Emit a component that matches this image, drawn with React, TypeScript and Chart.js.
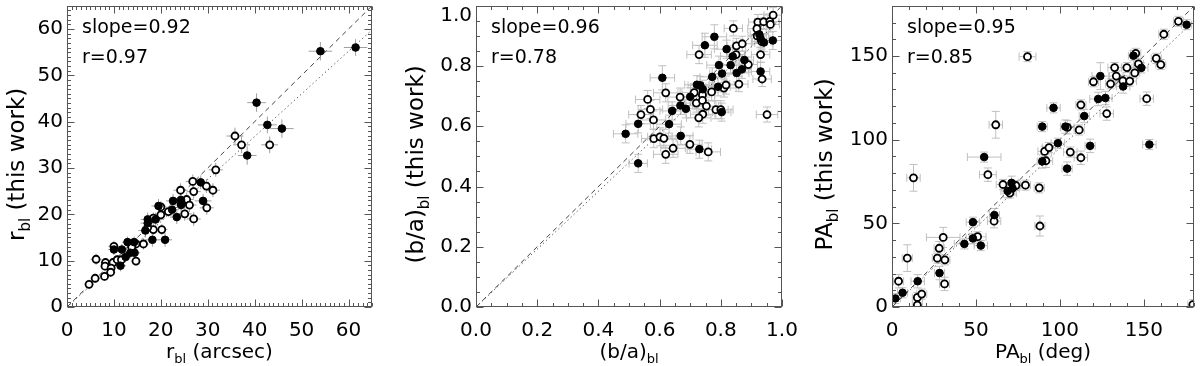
import React, { useEffect, useRef } from 'react';
import { Chart, registerables } from 'chart.js';
Chart.register(...registerables);

// ---------------- Panel 1: r_bl ----------------
const p1FilledX = [54, 61.5, 40.4, 42.7, 45.8, 38.4, 28.5, 29, 22.6, 22.4, 24.3, 24.3, 23.4, 19.5, 20.9, 18.2, 17.2, 17.2, 18.9, 16.7, 12.9, 14.3, 10, 11.7, 12.5, 13.5, 14.4, 11.4];
const p1FilledY = [55.2, 56, 44.1, 39.3, 38.5, 32.7, 26.9, 22.9, 22.9, 21, 23.1, 22, 19.4, 21.8, 14.5, 14.5, 18.9, 18.1, 18.9, 16.5, 14, 14, 12.4, 12.4, 10.8, 11.7, 11.7, 8.9];
const p1FilledXErr = [2.5, 2.5, 2, 2, 2.5, 2, 1.8, 1.8, 1.5, 1.5, 1.5, 1.5, 1.5, 1.5, 1.5, 1.5, 1.5, 1.5, 1.5, 1.5, 1.2, 1.2, 1.2, 1.2, 1.2, 1.2, 1.2, 1.2];
const p1FilledYErr = [2, 1.8, 2, 1.8, 2, 2, 1.5, 1.5, 1.5, 1.5, 1.5, 1.5, 1.5, 1.5, 1.5, 1.5, 1.5, 1.5, 1.5, 1.5, 1.2, 1.2, 1.2, 1.2, 1.2, 1.2, 1.2, 1.2];
const p1OpenX = [35.8, 37.2, 43.2, 31.7, 26.8, 27, 29.7, 31.1, 24.2, 25.5, 24.4, 26.1, 29.8, 25.1, 27, 21.6, 20, 20, 18.4, 20.2, 18.4, 17.2, 16.3, 14.7, 13.8, 10, 6.2, 8.2, 9.8, 8.1, 9.4, 9.3, 10.7, 11.6, 14.7, 8, 6, 4.7];
const p1OpenY = [36.9, 35, 35, 29.6, 27.1, 24.9, 26.1, 25.2, 25.2, 23.2, 22.4, 22, 21.4, 20.1, 19, 20.6, 21.6, 19.9, 19.2, 16.7, 16.7, 17.2, 13.6, 13.6, 12.9, 13.1, 10.3, 9.6, 9.6, 8.8, 8.4, 7.5, 10.2, 10.2, 9.9, 6.6, 6.2, 4.9];
const p1OpenXErr = [1.8, 1.8, 1.8, 1.5, 1.5, 1.5, 1.5, 1.5, 1.5, 1.5, 1.5, 1.5, 1.5, 1.5, 1.5, 1.2, 1.2, 1.2, 1.2, 1.2, 1.2, 1.2, 1.2, 1.2, 1.2, 1.2, 1.2, 1, 1, 1, 1, 1, 1, 1, 1, 1, 1, 1];
const p1OpenYErr = [1.8, 1.8, 1.8, 1.5, 1.5, 1.5, 1.5, 1.5, 1.5, 1.5, 1.5, 1.5, 1.5, 1.5, 1.5, 1.2, 1.2, 1.2, 1.2, 1.2, 1.2, 1.2, 1.2, 1.2, 1.2, 1.2, 1.2, 1, 1, 1, 1, 1, 1, 1, 1, 1, 1, 1];

// ---------------- Panel 2: (b/a)_bl ----------------
const p2FilledX = [0.489, 0.53, 0.53, 0.609, 0.641, 0.631, 0.669, 0.668, 0.686, 0.7, 0.722, 0.733, 0.741, 0.73, 0.748, 0.779, 0.772, 0.791, 0.794, 0.804, 0.803, 0.819, 0.832, 0.839, 0.852, 0.869, 0.877, 0.93, 0.926, 0.93, 0.941, 0.97];
const p2FilledY = [0.575, 0.608, 0.477, 0.761, 0.651, 0.607, 0.568, 0.669, 0.658, 0.698, 0.738, 0.736, 0.723, 0.524, 0.869, 0.897, 0.764, 0.731, 0.803, 0.775, 0.647, 0.856, 0.803, 0.832, 0.777, 0.789, 0.82, 0.782, 0.905, 0.891, 0.878, 0.885];
const p2FilledXErr = [0.04, 0.04, 0.03, 0.04, 0.04, 0.04, 0.04, 0.04, 0.04, 0.04, 0.04, 0.04, 0.04, 0.04, 0.04, 0.04, 0.04, 0.04, 0.04, 0.04, 0.03, 0.04, 0.04, 0.04, 0.04, 0.03, 0.03, 0.03, 0.03, 0.03, 0.03, 0.03];
const p2FilledYErr = [0.03, 0.03, 0.03, 0.04, 0.03, 0.03, 0.03, 0.03, 0.03, 0.03, 0.03, 0.03, 0.03, 0.03, 0.04, 0.04, 0.03, 0.03, 0.03, 0.03, 0.03, 0.03, 0.03, 0.03, 0.03, 0.03, 0.03, 0.03, 0.03, 0.03, 0.03, 0.03];
const p2OpenX = [0.561, 0.539, 0.57, 0.58, 0.581, 0.601, 0.614, 0.62, 0.644, 0.62, 0.667, 0.699, 0.713, 0.72, 0.729, 0.74, 0.74, 0.741, 0.728, 0.753, 0.759, 0.77, 0.784, 0.8, 0.81, 0.817, 0.841, 0.851, 0.85, 0.859, 0.87, 0.89, 0.921, 0.918, 0.919, 0.934, 0.93, 0.935, 0.94, 0.96, 0.962, 0.971, 0.951];
const p2OpenY = [0.689, 0.639, 0.656, 0.621, 0.559, 0.565, 0.56, 0.507, 0.527, 0.711, 0.697, 0.54, 0.712, 0.677, 0.838, 0.704, 0.686, 0.64, 0.628, 0.667, 0.515, 0.714, 0.655, 0.655, 0.727, 0.737, 0.925, 0.867, 0.838, 0.74, 0.874, 0.805, 0.946, 0.924, 0.9, 0.881, 0.838, 0.757, 0.947, 0.948, 0.938, 0.969, 0.639];
const p2OpenXErr = [0.04, 0.04, 0.04, 0.04, 0.04, 0.04, 0.04, 0.04, 0.04, 0.04, 0.04, 0.04, 0.04, 0.04, 0.04, 0.04, 0.04, 0.04, 0.04, 0.04, 0.04, 0.04, 0.04, 0.04, 0.04, 0.04, 0.03, 0.03, 0.03, 0.03, 0.03, 0.03, 0.03, 0.03, 0.03, 0.03, 0.03, 0.03, 0.03, 0.03, 0.03, 0.03, 0.035];
const p2OpenYErr = [0.03, 0.03, 0.03, 0.03, 0.03, 0.03, 0.03, 0.03, 0.03, 0.03, 0.03, 0.03, 0.03, 0.03, 0.03, 0.03, 0.03, 0.03, 0.03, 0.03, 0.03, 0.03, 0.03, 0.03, 0.03, 0.03, 0.025, 0.025, 0.025, 0.025, 0.025, 0.025, 0.025, 0.025, 0.025, 0.025, 0.025, 0.025, 0.025, 0.025, 0.025, 0.025, 0.025];

// ---------------- Panel 3: PA_bl ----------------
const p3FilledX = [2, 6.3, 15.3, 28.3, 43.1, 48.2, 48.2, 52.9, 54.9, 61, 68.9, 71.2, 71.8, 89.5, 89.5, 96.2, 98.8, 104.3, 103.3, 114.5, 118, 122.8, 124.1, 127.1, 137.7, 143.8, 148.5, 153.3, 175.5];
const p3FilledY = [5.1, 8.5, 15.4, 20.3, 37.7, 50.7, 41, 36.7, 89.6, 54.9, 69.3, 74.2, 70.9, 87, 107.8, 119, 97.9, 82.7, 107.8, 114.1, 96.3, 124.3, 138, 124.9, 131.8, 150.2, 142.9, 97.1, 168.7];
const p3FilledXErr = [3, 3, 4, 3, 6, 4, 4, 4, 10, 3, 4, 4, 4, 3, 3, 4, 4, 3, 3, 3, 3, 5, 5, 4, 4, 3, 4, 4, 3];
const p3FilledYErr = [3, 3, 4, 4, 3, 3, 3, 3, 3, 4, 4, 4, 4, 4, 3, 3, 3, 4, 4, 4, 4, 4, 8, 4, 4, 3, 3, 3, 3];
const p3OpenX = [3.9, 9.1, 12.8, 15.1, 15.1, 17.7, 27, 28.1, 30.5, 31.5, 31.3, 51, 60.8, 57.1, 61.8, 66.1, 70.2, 73.8, 79.5, 80.7, 87.7, 88.1, 90.9, 91.7, 93.5, 104.5, 106.2, 111.5, 112.5, 112.5, 120, 127.9, 130.2, 132.6, 133.6, 137.5, 139.9, 141.6, 144.6, 145.2, 146.8, 151.7, 157.4, 160.1, 161.9, 170.6, 179.2];
const p3OpenY = [15.4, 29.2, 77.2, 5.7, 1.2, 7.7, 29.2, 35.1, 41.6, 28.2, 13.8, 42, 51.3, 79.1, 108.9, 73.2, 68.1, 72.6, 72.8, 149.6, 71.2, 48.4, 93, 87.4, 95.3, 107.4, 92.6, 105.8, 89.2, 120.8, 134.6, 115.6, 133.4, 143.1, 138, 135.2, 143.1, 135, 139.9, 151.6, 145.3, 124.5, 148.6, 144.9, 163, 170.7, 1.4];
const p3OpenXErr = [3, 3, 4, 3, 3, 3, 3, 3, 10, 3, 3, 5, 4, 5, 4, 4, 4, 3, 3, 5, 3, 3, 4, 4, 4, 4, 4, 3, 4, 3, 3, 4, 3, 4, 4, 3, 3, 4, 3, 3, 3, 4, 3, 3, 3, 3, 3];
const p3OpenYErr = [4, 8, 8, 3, 3, 3, 3, 4, 6, 3, 4, 3, 4, 4, 8, 3, 3, 3, 3, 3, 3, 6, 3, 4, 3, 4, 3, 3, 4, 3, 3, 4, 3, 3, 3, 3, 3, 3, 3, 3, 3, 4, 3, 3, 3, 3, 3];

const slopes = [0.92, 0.96, 0.95];
const corrs = ['0.97', '0.78', '0.85'];

const FONT = 'DejaVu Sans';

type Part = { t: string; sub?: boolean };
type PanelCfg = {
  offset: number; plotLeft: number; plotRight: number;
  min: number; max: number; major: number; minor: number;
  decimals: number; hideTopY: boolean;
  slope: number; corr: string;
  filledX: number[]; filledY: number[]; filledXErr: number[]; filledYErr: number[];
  openX: number[]; openY: number[]; openXErr: number[]; openYErr: number[];
  xTitle: Part[]; yTitle: Part[]; yTitleX: number; cap: number; errColor: string;
};

const panels: PanelCfg[] = [
  {
    offset: 0, plotLeft: 67, plotRight: 372, min: 0, max: 65, major: 10, minor: 1, decimals: 0, hideTopY: false,
    slope: slopes[0], corr: corrs[0],
    filledX: p1FilledX, filledY: p1FilledY, filledXErr: p1FilledXErr, filledYErr: p1FilledYErr,
    openX: p1OpenX, openY: p1OpenY, openXErr: p1OpenXErr, openYErr: p1OpenYErr,
    xTitle: [{ t: 'r' }, { t: 'bl', sub: true }, { t: ' (arcsec)' }],
    yTitle: [{ t: 'r' }, { t: 'bl', sub: true }, { t: ' (this work)' }],
    yTitleX: 24, cap: 0, errColor: '#a0a0a0',
  },
  {
    offset: 400, plotLeft: 76, plotRight: 382, min: 0, max: 1, major: 0.2, minor: 0.05, decimals: 1, hideTopY: true,
    slope: slopes[1], corr: corrs[1],
    filledX: p2FilledX, filledY: p2FilledY, filledXErr: p2FilledXErr, filledYErr: p2FilledYErr,
    openX: p2OpenX, openY: p2OpenY, openXErr: p2OpenXErr, openYErr: p2OpenYErr,
    xTitle: [{ t: '(b/a)' }, { t: 'bl', sub: true }],
    yTitle: [{ t: '(b/a)' }, { t: 'bl', sub: true }, { t: ' (this work)' }],
    yTitleX: 23, cap: 4, errColor: '#c0c0c0',
  },
  {
    offset: 800, plotLeft: 92, plotRight: 397, min: 0, max: 180, major: 50, minor: 10, decimals: 0, hideTopY: false,
    slope: slopes[2], corr: corrs[2],
    filledX: p3FilledX, filledY: p3FilledY, filledXErr: p3FilledXErr, filledYErr: p3FilledYErr,
    openX: p3OpenX, openY: p3OpenY, openXErr: p3OpenXErr, openYErr: p3OpenYErr,
    xTitle: [{ t: 'PA' }, { t: 'bl', sub: true }, { t: ' (deg)' }],
    yTitle: [{ t: 'PA' }, { t: 'bl', sub: true }, { t: ' (this work)' }],
    yTitleX: 32, cap: 4, errColor: '#c0c0c0',
  },
];

const W = 400;
const H = 366;
const PLOT_TOP = 3;
const PLOT_BOTTOM = 307;

function drawParts(ctx: CanvasRenderingContext2D, parts: Part[], size: number, subSize: number, cx: number, by: number) {
  const widths = parts.map((p) => {
    ctx.font = `${p.sub ? subSize : size}px "${FONT}"`;
    return ctx.measureText(p.t).width;
  });
  const total = widths.reduce((a, b) => a + b, 0);
  let x = cx - total / 2;
  ctx.textAlign = 'left';
  ctx.textBaseline = 'alphabetic';
  parts.forEach((p, i) => {
    ctx.font = `${p.sub ? subSize : size}px "${FONT}"`;
    ctx.fillText(p.t, x, p.sub ? by + size * 0.25 : by);
    x += widths[i];
  });
}

const errorBarsPlugin = {
  id: 'errorBars',
  beforeDatasetsDraw(chart: any, _args: any, opts: any) {
    const { ctx, chartArea: a, scales } = chart;
    const xs = scales.x, ys = scales.y;
    ctx.save();
    ctx.beginPath();
    ctx.rect(a.left, a.top, a.right - a.left, a.bottom - a.top);
    ctx.clip();
    ctx.strokeStyle = opts.color;
    ctx.lineWidth = 1;
    const cap = opts.cap;
    chart.data.datasets.forEach((ds: any) => {
      if (!ds.errX) return;
      ds.data.forEach((p: any, i: number) => {
        const px = xs.getPixelForValue(p.x), py = ys.getPixelForValue(p.y);
        const x0 = xs.getPixelForValue(p.x - ds.errX[i]), x1 = xs.getPixelForValue(p.x + ds.errX[i]);
        const y0 = ys.getPixelForValue(p.y - ds.errY[i]), y1 = ys.getPixelForValue(p.y + ds.errY[i]);
        ctx.beginPath();
        ctx.moveTo(x0, py); ctx.lineTo(x1, py);
        ctx.moveTo(px, y0); ctx.lineTo(px, y1);
        if (cap > 0) {
          ctx.moveTo(x0, py - cap); ctx.lineTo(x0, py + cap);
          ctx.moveTo(x1, py - cap); ctx.lineTo(x1, py + cap);
          ctx.moveTo(px - cap, y0); ctx.lineTo(px + cap, y0);
          ctx.moveTo(px - cap, y1); ctx.lineTo(px + cap, y1);
        }
        ctx.stroke();
      });
    });
    ctx.restore();
  },
};

const frameTicksPlugin = {
  id: 'frameTicks',
  afterDatasetsDraw(chart: any, _args: any, opts: any) {
    const { ctx, chartArea: a, scales } = chart;
    const xs = scales.x, ys = scales.y;
    ctx.save();
    ctx.strokeStyle = '#555';
    ctx.lineWidth = 1;
    const L = Math.round(a.left) + 0.5, R = Math.round(a.right) - 0.5;
    const T = Math.round(a.top) + 0.5, B = Math.round(a.bottom) - 0.5;
    ctx.strokeRect(L, T, R - L, B - T);
    const isMajor = (v: number) => Math.abs(v / opts.major - Math.round(v / opts.major)) < 1e-6;
    ctx.beginPath();
    const n = Math.round((opts.max - opts.min) / opts.minor);
    for (let i = 0; i <= n; i++) {
      const v = opts.min + i * opts.minor;
      const len = isMajor(v) ? 7 : 3.5;
      const px = Math.round(xs.getPixelForValue(v)) + 0.5;
      ctx.moveTo(px, B); ctx.lineTo(px, B - len);
      ctx.moveTo(px, T); ctx.lineTo(px, T + len);
      const py = Math.round(ys.getPixelForValue(v)) + 0.5;
      ctx.moveTo(L, py); ctx.lineTo(L + len, py);
      ctx.moveTo(R, py); ctx.lineTo(R - len, py);
    }
    ctx.stroke();
    ctx.restore();
  },
};

const textPlugin = {
  id: 'panelText',
  afterDraw(chart: any, _args: any, opts: any) {
    const { ctx, chartArea: a } = chart;
    ctx.save();
    ctx.fillStyle = '#000';
    ctx.font = `19px "${FONT}"`;
    ctx.textAlign = 'left';
    ctx.textBaseline = 'alphabetic';
    ctx.fillText(`slope=${opts.slope.toFixed(2)}`, a.left + 15, 33);
    ctx.fillText(`r=${opts.corr}`, a.left + 15, 63);
    if (opts.topLabel) {
      ctx.font = `20px "${FONT}"`;
      ctx.textAlign = 'right';
      ctx.fillText(opts.topLabel, a.left - 4, a.top + 15);
    }
    drawParts(ctx, opts.xTitle, 20, 13, (a.left + a.right) / 2, 358);
    ctx.translate(opts.yTitleX, (a.top + a.bottom) / 2 + 8);
    ctx.rotate(-Math.PI / 2);
    drawParts(ctx, opts.yTitle, 23, 15, 0, 0);
    ctx.restore();
  },
};

function Panel({ cfg }: { cfg: PanelCfg }) {
  const ref = useRef<HTMLCanvasElement | null>(null);
  useEffect(() => {
    if (!ref.current) return;
    const fmt = (v: number) => v.toFixed(cfg.decimals);
    const tickFont = { family: FONT, size: 20 };
    const chart = new Chart(ref.current, {
      type: 'scatter',
      data: {
        datasets: [
          {
            label: 'filled',
            data: cfg.filledX.map((x, i) => ({ x, y: cfg.filledY[i] })),
            errX: cfg.filledXErr, errY: cfg.filledYErr,
            pointRadius: 3.8, pointBackgroundColor: '#000', pointBorderColor: '#000', pointBorderWidth: 1,
          } as any,
          {
            label: 'open',
            data: cfg.openX.map((x, i) => ({ x, y: cfg.openY[i] })),
            errX: cfg.openXErr, errY: cfg.openYErr,
            pointRadius: 3.5, pointBackgroundColor: '#fff', pointBorderColor: '#000', pointBorderWidth: 1.8,
          } as any,
          {
            type: 'line', label: 'one-to-one',
            data: [{ x: cfg.min, y: cfg.min }, { x: cfg.max, y: cfg.max }],
            borderColor: '#444', borderWidth: 1, borderDash: [5, 4], pointRadius: 0, showLine: true, fill: false,
          } as any,
          {
            type: 'line', label: 'fit',
            data: [{ x: cfg.min, y: cfg.min * cfg.slope }, { x: cfg.max, y: cfg.max * cfg.slope }],
            borderColor: '#444', borderWidth: 1, borderDash: [1.2, 3], pointRadius: 0, showLine: true, fill: false,
          } as any,
        ],
      },
      options: {
        responsive: false,
        animation: false,
        devicePixelRatio: 1,
        layout: { padding: { left: 0, right: W - cfg.plotRight, top: PLOT_TOP, bottom: 0 } },
        plugins: {
          legend: { display: false },
          tooltip: { enabled: false },
          errorBars: { color: cfg.errColor, cap: cfg.cap },
          frameTicks: { min: cfg.min, max: cfg.max, major: cfg.major, minor: cfg.minor },
          panelText: {
            slope: cfg.slope, corr: cfg.corr, xTitle: cfg.xTitle, yTitle: cfg.yTitle, yTitleX: cfg.yTitleX,
            topLabel: cfg.hideTopY ? fmt(cfg.max) : null,
          },
        } as any,
        scales: {
          x: {
            type: 'linear', min: cfg.min, max: cfg.max,
            grid: { display: false, drawTicks: false }, border: { display: false },
            ticks: {
              stepSize: cfg.major, includeBounds: false, padding: 12, color: '#000', font: tickFont,
              maxRotation: 0, autoSkip: false, callback: (v: any) => fmt(Number(v)),
            },
            afterFit: (s: any) => { s.height = H - PLOT_BOTTOM; s.paddingLeft = 0; s.paddingRight = 0; },
          },
          y: {
            type: 'linear', min: cfg.min, max: cfg.max,
            grid: { display: false, drawTicks: false }, border: { display: false },
            ticks: {
              stepSize: cfg.major, includeBounds: false, padding: 4, color: '#000', font: tickFont,
              autoSkip: false,
              callback: (v: any) => (cfg.hideTopY && Math.abs(Number(v) - cfg.max) < 1e-9 ? null : fmt(Number(v))),
            },
            afterFit: (s: any) => { s.width = cfg.plotLeft; s.paddingTop = 0; s.paddingBottom = 0; },
          },
        },
      } as any,
      plugins: [errorBarsPlugin, frameTicksPlugin, textPlugin] as any,
    });
    return () => chart.destroy();
  }, [cfg]);
  return (
    <canvas
      ref={ref}
      width={W}
      height={H}
      style={{ position: 'absolute', left: cfg.offset, top: 0, width: W, height: H }}
    />
  );
}

export default function App() {
  return (
    <div style={{ position: 'fixed', left: 0, top: 0, width: 1200, height: 366, background: '#fff', overflow: 'hidden' }}>
      {panels.map((p, i) => (
        <Panel key={i} cfg={p} />
      ))}
    </div>
  );
}
